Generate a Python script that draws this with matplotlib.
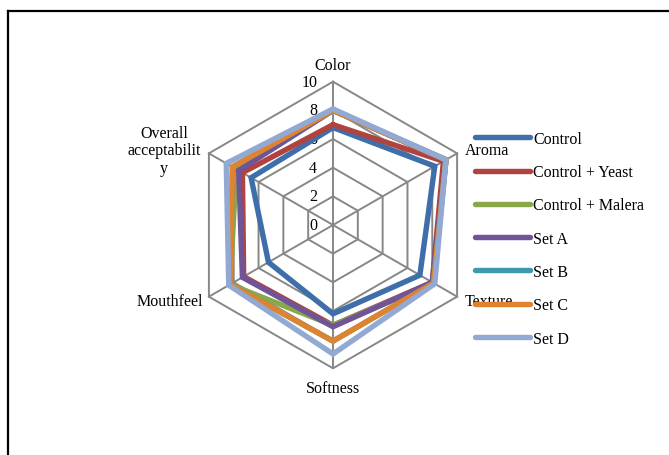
import matplotlib
matplotlib.use("Agg")
import matplotlib.pyplot as plt
from matplotlib.lines import Line2D
import numpy as np

# -- Data -----------------------------------------------------------------
CATEGORIES = ["Color", "Aroma", "Texture", "Softness", "Mouthfeel",
              "Overall\nacceptabilit\ny"]
SERIES = ["Control", "Control + Yeast", "Control + Malera",
          "Set A", "Set B", "Set C", "Set D"]
CONTROL = [6.8, 8.2, 7.0, 6.2, 5.2, 6.6]
CONTROL_YEAST = [7.0, 8.9, 8.0, 7.0, 7.2, 7.3]
CONTROL_MALERA = [8.0, 9.1, 8.1, 7.0, 8.3, 7.8]
SET_A = [8.0, 9.1, 8.0, 7.1, 7.3, 7.6]
SET_B = [8.0, 9.1, 8.1, 8.1, 8.3, 8.1]
SET_C = [8.0, 9.1, 8.1, 8.1, 8.3, 8.1]
SET_D = [8.1, 9.1, 8.2, 9.0, 8.4, 8.6]
TICKS = [0, 2, 4, 6, 8, 10]

COLORS = ["#3F6FAA", "#B0433F", "#88A84A", "#6F5597",
          "#3E99B0", "#E0832F", "#92AAD3"]

plt.rcParams["font.family"] = ["Liberation Serif", "DejaVu Serif"]

# -- Figure ---------------------------------------------------------------
W, H = 669, 456
CX, CY = 333, 226          # centre of the radar in pixels
PX = 14.33                 # pixels per unit

fig = plt.figure(figsize=(W / 100, H / 100), dpi=100)
ax = fig.add_axes([0, 0, 1, 1])
ax.set_xlim(-CX / PX, (W - CX) / PX)
ax.set_ylim((CY - H) / PX, CY / PX)
ax.axis("off")

n = len(CATEGORIES)
theta = np.deg2rad(90 - 60 * np.arange(n))
cos_t, sin_t = np.cos(theta), np.sin(theta)


def closed(vals):
    v = np.append(vals, vals[0])
    c = np.append(cos_t, cos_t[0])
    s = np.append(sin_t, sin_t[0])
    return v * c, v * s


# grid
grid_c = "#878787"
for t in TICKS[1:]:
    gx, gy = closed(np.full(n, t))
    ax.plot(gx, gy, color=grid_c, lw=1.4, zorder=1)
for c, s in zip(cos_t, sin_t):
    ax.plot([0, 10 * c], [0, 10 * s], color=grid_c, lw=1.4, zorder=1)

# tick labels
for t in TICKS:
    ax.text(-1.1, t, str(t), ha="right", va="center", fontsize=11.5)

# series
data = [CONTROL, CONTROL_YEAST, CONTROL_MALERA, SET_A, SET_B, SET_C, SET_D]
for name, vals, col in zip(SERIES, data, COLORS):
    sx, sy = closed(np.array(vals))
    ax.plot(sx, sy, color=col, lw=3.9, label=name, zorder=3,
            solid_joinstyle="miter", solid_capstyle="round")

# category labels
ax.text(0, 11.2, CATEGORIES[0], ha="center", va="center", fontsize=11.5)
ax.text(9.2, 5.2, CATEGORIES[1], ha="left", va="center", fontsize=11.5)
ax.text(9.2, -5.3, CATEGORIES[2], ha="left", va="center", fontsize=11.5)
ax.text(0, -11.4, CATEGORIES[3], ha="center", va="center", fontsize=11.5)
ax.text(-9.1, -5.3, CATEGORIES[4], ha="right", va="center", fontsize=11.5)
ax.text(-11.8, 5.2, CATEGORIES[5], ha="center", va="center", fontsize=11.5,
        linespacing=1.1)

leg = ax.legend(loc="upper left", bbox_to_anchor=(475 / W, 1 - 132 / H),
                bbox_transform=fig.transFigure, frameon=False,
                fontsize=11.5, handlelength=3.45, handletextpad=0.2,
                labelspacing=1.08, borderpad=0, borderaxespad=0)
leg.set_zorder(5)

# outer frame (cut off at right and bottom)
fig.add_artist(Line2D([7.5 / W, 7.5 / W], [0, 1 - 11.5 / H],
                      transform=fig.transFigure, color="black", lw=1.6))
fig.add_artist(Line2D([7.5 / W, 1], [1 - 11.5 / H, 1 - 11.5 / H],
                      transform=fig.transFigure, color="black", lw=1.6))

fig.savefig("out.png", dpi=100, facecolor="white")
